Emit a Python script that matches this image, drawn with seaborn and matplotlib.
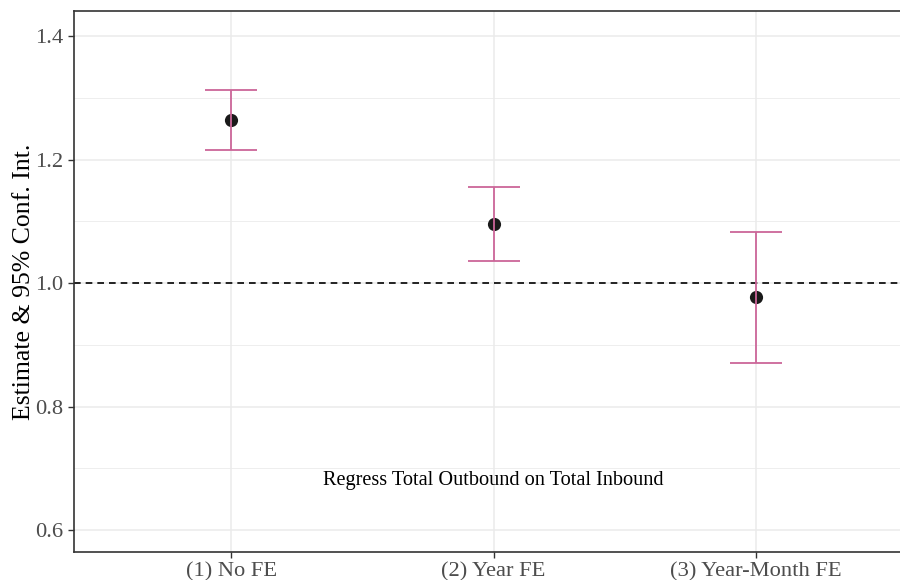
import matplotlib
matplotlib.use("Agg")
import matplotlib.pyplot as plt
import pandas as pd
import seaborn as sns
from matplotlib.ticker import MultipleLocator

# Данные: оценки и 95% доверительные интервалы
models = ['(1) No FE', '(2) Year FE', '(3) Year-Month FE']
estimates = [1.264, 1.096, 0.977]
ci_low = [1.215, 1.035, 0.871]
ci_high = [1.313, 1.156, 1.083]

df = pd.DataFrame({'model': models, 'est': estimates, 'lo': ci_low, 'hi': ci_high})

sns.set_style("whitegrid")
plt.rcParams['font.family'] = ['Liberation Serif', 'DejaVu Serif']

fig = plt.figure(figsize=(9, 5.8), dpi=100)
ax = fig.add_axes([0.0822, 0.048, 0.9178, 0.933])

# Точки
sns.scatterplot(data=df, x='model', y='est', ax=ax, s=90, color='#1a1a1a',
                edgecolor='#1a1a1a', linewidth=0, zorder=3)

# Доверительные интервалы
ax.errorbar(df['model'], df['est'],
            yerr=[df['est'] - df['lo'], df['hi'] - df['est']],
            fmt='none', ecolor='#CC6699', elinewidth=1.3, capsize=19,
            capthick=1.3, zorder=4)

ax.axhline(1.0, color='black', linestyle=(0, (4, 3)), linewidth=1.2, zorder=2)

ax.text(1, 0.68, 'Regress Total Outbound on Total Inbound',
        ha='center', va='center', fontsize=14.6, color='black')

# Оси и сетка
ax.set_xlim(-0.6, 2.55)
ax.set_ylim(0.5644, 1.4405)
ax.yaxis.set_major_locator(MultipleLocator(0.2))
ax.yaxis.set_minor_locator(MultipleLocator(0.1))
ax.grid(which='major', color='#EBEBEB', linewidth=1.1)
ax.grid(which='minor', axis='y', color='#EBEBEB', linewidth=0.6)
ax.set_axisbelow(True)

for side in ['left', 'top', 'bottom']:
    ax.spines[side].set_color('#333333')
    ax.spines[side].set_linewidth(1.2)
ax.spines['right'].set_visible(False)

ax.tick_params(axis='both', which='major', length=4, width=1, color='#333333',
               labelsize=16.2, labelcolor='#4D4D4D', left=True, bottom=True)
ax.tick_params(axis='y', which='minor', length=0)

ax.set_xlabel('')
ax.set_ylabel('Estimate & 95% Conf. Int.', fontsize=18.5, color='black', labelpad=0)

plt.savefig('out.png', dpi=100)
plt.close()
